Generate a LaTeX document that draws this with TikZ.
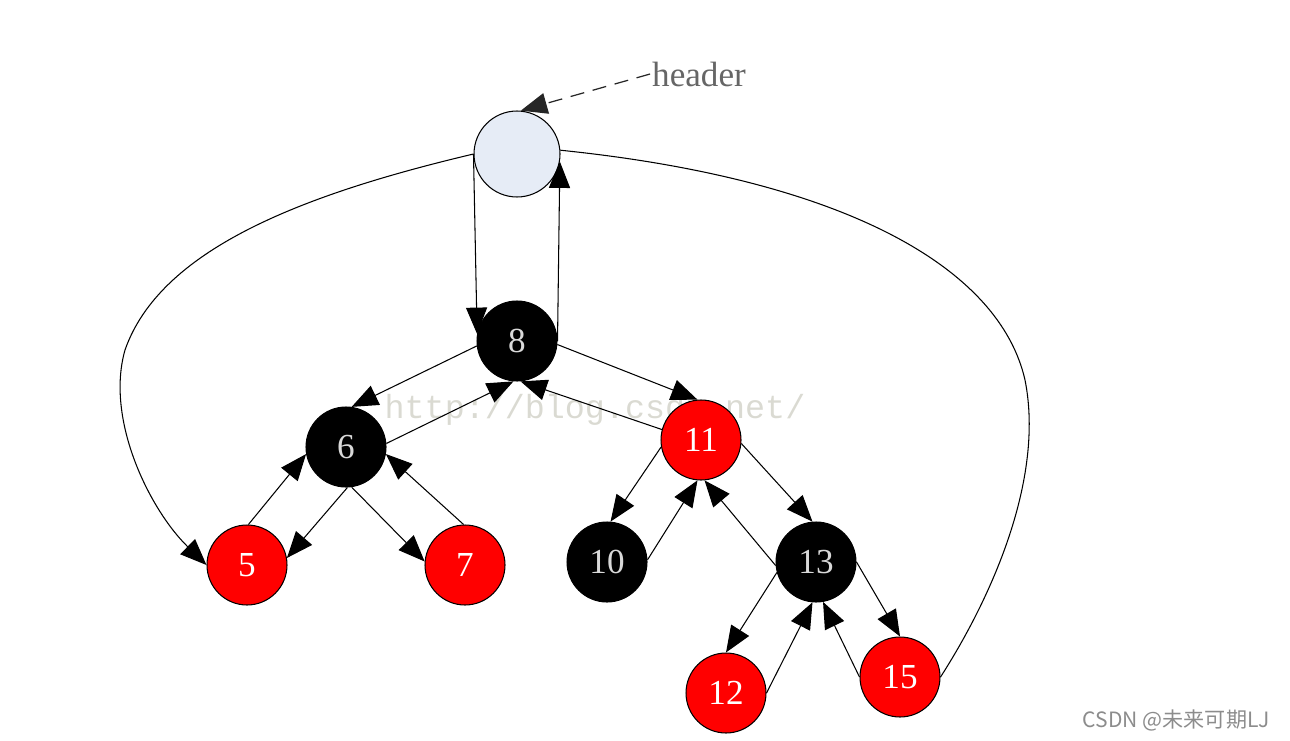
\documentclass[tikz,border=0pt]{standalone}
\usepackage{fontspec}
\setmainfont{Liberation Serif}
\newfontfamily\wmfont{Liberation Mono}
\newfontfamily\cjkfont{Noto Sans CJK SC}
\usetikzlibrary{arrows.meta}
\definecolor{hdblue}{HTML}{E6ECF6}
\definecolor{wmgray}{HTML}{DADAD2}
\begin{document}
\begin{tikzpicture}[x=0.02cm,y=-0.02cm,>={Triangle[length=15pt,width=12pt]},line join=round,
    rbnode/.style={circle,draw,line width=0.6pt,minimum size=1.6cm,inner sep=0pt,font=\fontsize{20}{24}\selectfont},
    bnode/.style={rbnode,fill=black,text=black!15},
    rnode/.style={rbnode,fill=red,text=white},
    link/.style={->,line width=0.6pt}]
    \useasboundingbox (0,0) rectangle (1290,740);
    % watermarks
    \node[text=wmgray,font=\wmfont\fontsize{19}{22}\selectfont] (wm) at (595,410) {http://blog.csdn.net/};
    \node[text=black!45,font=\cjkfont\fontsize{12}{14}\selectfont,anchor=east] (csdn) at (1276,720) {CSDN @未来可期LJ};
    % header and tree
    \node[rbnode,fill=hdblue,minimum size=1.72cm] (hd) at (517,154) {};
    \node[text=black!60,inner sep=1pt,font=\fontsize{20}{24}\selectfont] (lbl) at (699,74) {header};
    \node[bnode] (n8) at (517,341) {8};
    \node[bnode] (n6) at (346,447) {6};
    \node[rnode] (n11) at (701,440) {11};
    \node[rnode] (n5) at (247,565) {5};
    \node[rnode] (n7) at (465,565) {7};
    \node[bnode] (n10) at (607,562) {10};
    \node[bnode] (n13) at (816,562) {13};
    \node[rnode] (n12) at (726,693) {12};
    \node[rnode] (n15) at (900,677) {15};
    \draw[->,dash pattern=on 8pt off 5pt,black!85,line width=0.7pt] (lbl.west) -- (hd.85);
    \draw[link] (hd.west) -- (n8.170);
    \draw[link] (n8.east) -- (hd.350);
    \foreach \p/\q in {n8.187/n6.82, n6.5/n8.265, n8.355/n11.95, n11.165/n8.275,
        n6.272/n5.10, n5.88/n6.190, n6.278/n7.175, n7.92/n6.350,
        n11.190/n10.85, n10.3/n11.265, n11.355/n13.95, n13.185/n11.275,
        n13.195/n12.90, n12.0/n13.265, n13.0/n15.90, n15.180/n13.280}
        \draw[link] (\p) -- (\q);
    \draw[link] (hd.west) .. controls (300,195) and (160,250) .. (125,350)
        .. controls (105,420) and (150,510) .. (n5.west);
    \draw[line width=0.6pt] (n15.east) .. controls (990,600) and (1045,480) .. (1025,380)
        .. controls (1000,270) and (850,180) .. (hd.5);
\end{tikzpicture}
\end{document}
